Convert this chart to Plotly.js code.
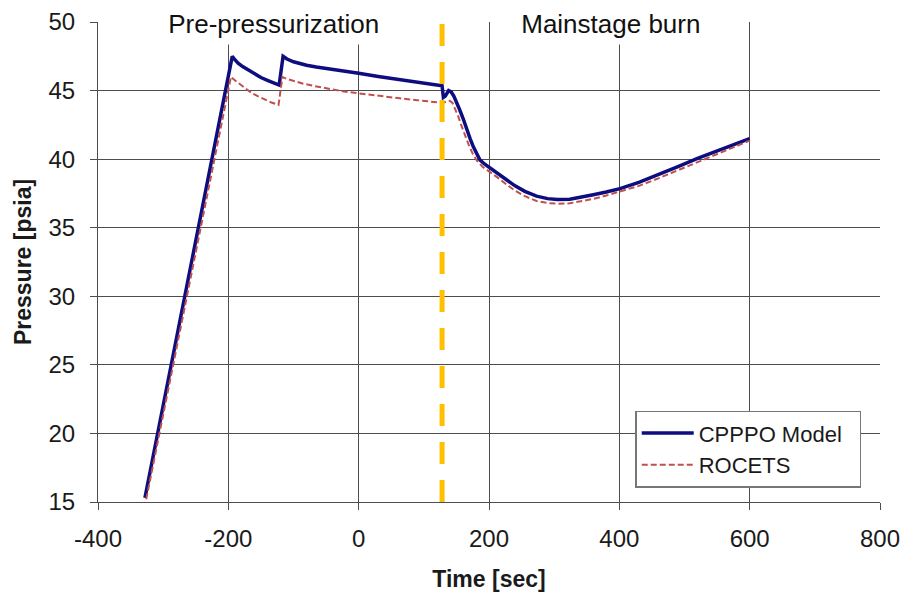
<!DOCTYPE html>
<html><head><meta charset="utf-8">
<script src="https://cdn.plot.ly/plotly-3.0.1.min.js"></script>
<style>html,body{margin:0;padding:0;background:#fff}#chart{width:904px;height:594px}</style>
</head><body><div id="chart"></div>
<script>
const cpppoTime = [-328,-194,-190,-185,-178,-170,-160,-150,-140,-130,-122,-116,-110,-100,-90,-80,-65,-50,-30,0,30,60,90,128,130,133,138,142,146,150,155,160,166,171,176,181,186,193,202,215,227,240,255,273,290,305,324,340,360,380,401,430,460,490,520,550,575,600];
const cpppoPressure = [15.3,47.5,47.25,47.0,46.75,46.5,46.2,45.95,45.75,45.55,45.4,47.5,47.3,47.1,46.95,46.85,46.72,46.6,46.45,46.26,46.03,45.82,45.62,45.35,44.5,44.6,45.0,44.9,44.6,44.2,43.6,43.0,42.1,41.5,40.9,40.4,39.95,39.65,39.35,38.9,38.45,38.05,37.65,37.3,37.12,37.05,37.07,37.2,37.4,37.6,37.85,38.3,38.85,39.45,40.05,40.6,41.1,41.5];
const rocetsTime = [-326,-196,-190,-183,-175,-165,-155,-145,-135,-123,-117,-110,-100,-85,-70,-50,-25,0,30,60,90,128,135,140,144,148,153,158,164,170,176,182,190,202,215,227,240,255,273,290,305,324,340,360,380,401,430,460,490,520,550,575,600];
const rocetsPressure = [15.2,46.0,45.75,45.5,45.2,44.85,44.6,44.35,44.15,43.95,46.0,45.85,45.7,45.5,45.35,45.15,44.95,44.8,44.6,44.45,44.3,44.1,44.2,44.25,44.1,43.7,43.1,42.4,41.6,40.9,40.3,39.85,39.45,39.05,38.6,38.15,37.7,37.3,36.95,36.8,36.75,36.78,36.9,37.1,37.35,37.62,38.05,38.6,39.2,39.8,40.4,40.9,41.35];
const burnStart = 128;
const phaseLabels = ["Pre-pressurization", "Mainstage burn"];
const seriesNames = ["CPPPO Model", "ROCETS"];
const xTickVals = [-400, -200, 0, 200, 400, 600, 800];
const xTickText = ["-400", "-200", "0", "200", "400", "600", "800"];
const yTickVals = [15, 20, 25, 30, 35, 40, 45, 50];

const font = "Liberation Sans, Arial, sans-serif";
const traces = [
  {x: cpppoTime, y: cpppoPressure, name: seriesNames[0] + "\u00a0\u00a0", mode: "lines",
   line: {color: "#0d0d80", width: 3.5}},
  {x: rocetsTime, y: rocetsPressure, name: seriesNames[1], mode: "lines",
   line: {color: "#c0504d", width: 2, dash: "6px,3px"}}
];
const layout = {
  width: 904, height: 594,
  margin: {l: 98, r: 24, t: 22, b: 92},
  paper_bgcolor: "#fff", plot_bgcolor: "#fff",
  font: {family: font, size: 24, color: "#1a1a1a"},
  showlegend: true,
  legend: {x: 0.687, y: 0.19, xanchor: "left", yanchor: "top",
    bgcolor: "#fff", bordercolor: "#777", borderwidth: 1.5,
    font: {family: font, size: 22, color: "#1a1a1a"}, itemwidth: 52,
    tracegroupgap: 0},
  xaxis: {range: [-400, 800], tickvals: xTickVals, ticktext: xTickText,
    showgrid: true, gridcolor: "#4d4d4d", gridwidth: 1,
    showline: true, linecolor: "#4d4d4d", linewidth: 1,
    ticks: "outside", ticklen: 7, tickcolor: "#4d4d4d", ticklabelstandoff: 8,
    zeroline: false, tickfont: {size: 24}, automargin: false,
    title: {text: "<b>Time [sec]</b>", font: {size: 23}, standoff: 20}},
  yaxis: {range: [15, 50], tickvals: yTickVals,
    showgrid: true, gridcolor: "#4d4d4d", gridwidth: 1,
    showline: true, linecolor: "#4d4d4d", linewidth: 1,
    ticks: "outside", ticklen: 7, tickcolor: "#4d4d4d", ticklabelstandoff: 10,
    zeroline: false, tickfont: {size: 24}, automargin: false,
    title: {text: "<b>Pressure [psia]</b>", font: {size: 23}, standoff: 10}},
  shapes: [{type: "line", xref: "x", yref: "paper", x0: burnStart, x1: burnStart, y0: 0, y1: 1,
    line: {color: "#ffc000", width: 5, dash: "22px,16px"}}],
  annotations: [
    {text: "\u00a0" + phaseLabels[0] + "\u00a0", xref: "paper", yref: "paper", x: 0.225, y: 1, yshift: -2,
     xanchor: "center", yanchor: "middle",
     showarrow: false, bgcolor: "#fff", font: {size: 26, color: "#111"}, borderpad: 5},
    {text: "\u00a0" + phaseLabels[1] + "\u00a0", xref: "paper", yref: "paper", x: 0.656, y: 1, yshift: -2,
     xanchor: "center", yanchor: "middle",
     showarrow: false, bgcolor: "#fff", font: {size: 26, color: "#111"}, borderpad: 5}
  ]
};
Plotly.newPlot("chart", traces, layout, {displayModeBar: false, staticPlot: true});
</script></body></html>
